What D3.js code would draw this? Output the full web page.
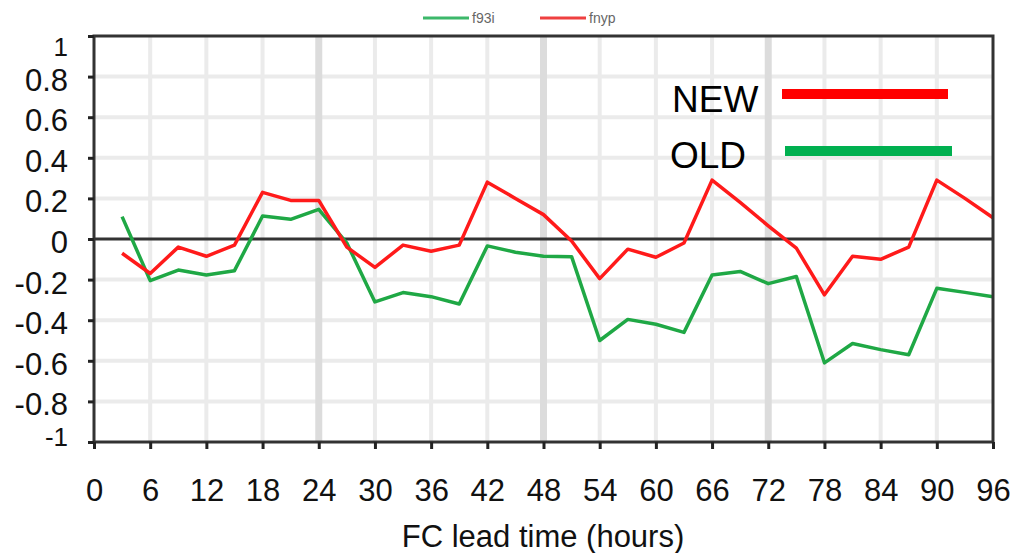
<!DOCTYPE html>
<html>
<head>
<meta charset="utf-8">
<script src="https://cdn.jsdelivr.net/npm/d3@7/dist/d3.min.js"></script>
<style>
  body { margin: 0; background: #fff; }
  svg { display: block; font-family: "Liberation Sans", Arial, sans-serif; }
</style>
</head>
<body>
<svg id="chart" width="1011" height="553"></svg>
<script>
// lead times (hours) and the two error series
const hours = [3, 6, 9, 12, 15, 18, 21, 24, 27, 30, 33, 36, 39, 42, 45, 48,
               51, 54, 57, 60, 63, 66, 69, 72, 75, 78, 81, 84, 87, 90, 93, 96];
const newVals = [-0.07, -0.17, -0.04, -0.085, -0.03, 0.23, 0.19, 0.19, -0.04, -0.14, -0.03, -0.06, -0.03, 0.28, 0.2, 0.12,
                 -0.01, -0.195, -0.05, -0.09, -0.02, 0.29, 0.18, 0.065, -0.045, -0.275, -0.085, -0.1, -0.04, 0.29, 0.2, 0.105];
const oldVals = [0.11, -0.205, -0.153, -0.177, -0.156, 0.113, 0.097, 0.146, -0.02, -0.31, -0.264, -0.284, -0.32, -0.034, -0.065, -0.085,
                 -0.087, -0.5, -0.396, -0.42, -0.46, -0.177, -0.16, -0.22, -0.185, -0.61, -0.515, -0.545, -0.57, -0.243, -0.263, -0.284];
const xTicks = [0, 6, 12, 18, 24, 30, 36, 42, 48, 54, 60, 66, 72, 78, 84, 90, 96];
const majorX = [24, 48, 72];
const yTicks = [1, 0.8, 0.6, 0.4, 0.2, 0, -0.2, -0.4, -0.6, -0.8, -1];

let svg = d3.select("#chart");
let x = d3.scaleLinear().domain([0, 96]).range([94, 993]);
let y = d3.scaleLinear().domain([-1, 1]).range([442, 36]);

/**
 * grid
 */
svg.append("g").selectAll("line")
    .data(yTicks.filter(d => d !== 0 && Math.abs(d) !== 1))
    .enter().append("line")
    .attr("x1", x(0)).attr("x2", x(96))
    .attr("y1", d => y(d)).attr("y2", d => y(d))
    .attr("stroke", "#ebebeb").attr("stroke-width", 4);

svg.append("g").selectAll("line")
    .data(xTicks.filter(d => d > 0 && d < 96))
    .enter().append("line")
    .attr("x1", d => x(d)).attr("x2", d => x(d))
    .attr("y1", y(1)).attr("y2", y(-1))
    .attr("stroke", d => majorX.includes(d) ? "#dcdcdc" : "#ebebeb")
    .attr("stroke-width", d => majorX.includes(d) ? 7 : 4);

// zero line
svg.append("line")
    .attr("x1", x(0)).attr("x2", x(96))
    .attr("y1", y(0)).attr("y2", y(0))
    .attr("stroke", "#333").attr("stroke-width", 3);

/**
 * series
 */
let line = d3.line().x((d, i) => x(hours[i])).y(d => y(d));

svg.append("path").datum(oldVals)
    .attr("d", line)
    .attr("fill", "none").attr("stroke", "#1fa845").attr("stroke-width", 3.5)
    .attr("stroke-linejoin", "round");

svg.append("path").datum(newVals)
    .attr("d", line)
    .attr("fill", "none").attr("stroke", "#ff1a1a").attr("stroke-width", 3.5)
    .attr("stroke-linejoin", "round");

/**
 * frame + axes
 */
svg.append("rect")
    .attr("x", x(0)).attr("y", y(1))
    .attr("width", x(96) - x(0)).attr("height", y(-1) - y(1))
    .attr("fill", "none").attr("stroke", "#333").attr("stroke-width", 3);

let xAxis = svg.append("g")
    .attr("transform", `translate(0,${y(-1)})`)
    .call(d3.axisBottom(x).tickValues(xTicks).tickSize(7).tickPadding(30).tickSizeOuter(0));
xAxis.select(".domain").remove();
xAxis.selectAll("line").attr("stroke", "#222").attr("stroke-width", 3);
xAxis.selectAll("text")
    .attr("font-size", 31).attr("fill", "#111")
    .style("font-family", "'Liberation Sans', Arial, sans-serif");

// end labels (1 and -1) are pulled inside and drawn a bit smaller
let yAxis = svg.append("g")
    .attr("transform", `translate(${x(0)},0)`)
    .call(d3.axisLeft(y).tickValues(yTicks).tickFormat(d => String(d)).tickSize(6).tickPadding(20).tickSizeOuter(0));
yAxis.select(".domain").remove();
yAxis.selectAll("line").attr("stroke", "#222").attr("stroke-width", 3);
yAxis.selectAll("text")
    .attr("font-size", d => Math.abs(d) === 1 ? 26 : 31).attr("fill", "#111")
    .attr("dy", d => d === 1 ? "19px" : d === -1 ? "3px" : "13.5px")
    .style("font-family", "'Liberation Sans', Arial, sans-serif");

svg.append("text")
    .attr("x", 543).attr("y", 547)
    .attr("text-anchor", "middle")
    .attr("font-size", 31).attr("fill", "#111")
    .text("FC lead time (hours)");

/**
 * small top legend
 */
let topLegend = [
    { label: "f93i", color: "#3cb86a", x0: 423 },
    { label: "fnyp", color: "#ef4040", x0: 540 }
];
let tl = svg.append("g").selectAll("g").data(topLegend).enter().append("g");
tl.append("line")
    .attr("x1", d => d.x0).attr("x2", d => d.x0 + 46)
    .attr("y1", 18).attr("y2", 18)
    .attr("stroke", d => d.color).attr("stroke-width", 3);
tl.append("text")
    .attr("x", d => d.x0 + 49).attr("y", 23)
    .attr("font-size", 14).attr("fill", "#666")
    .text(d => d.label);

/**
 * NEW / OLD annotation
 */
let notes = [
    { label: "NEW", color: "#ff0000", tx: 672, ty: 112, bx0: 782, bx1: 948, by: 94 },
    { label: "OLD", color: "#00b050", tx: 670, ty: 168, bx0: 785, bx1: 952, by: 151 }
];
let nt = svg.append("g").selectAll("g").data(notes).enter().append("g");
nt.append("text")
    .attr("x", d => d.tx).attr("y", d => d.ty)
    .attr("font-size", 37).attr("fill", "#000")
    .text(d => d.label);
nt.append("line")
    .attr("x1", d => d.bx0).attr("x2", d => d.bx1)
    .attr("y1", d => d.by).attr("y2", d => d.by)
    .attr("stroke", d => d.color).attr("stroke-width", 10);
</script>
</body>
</html>
